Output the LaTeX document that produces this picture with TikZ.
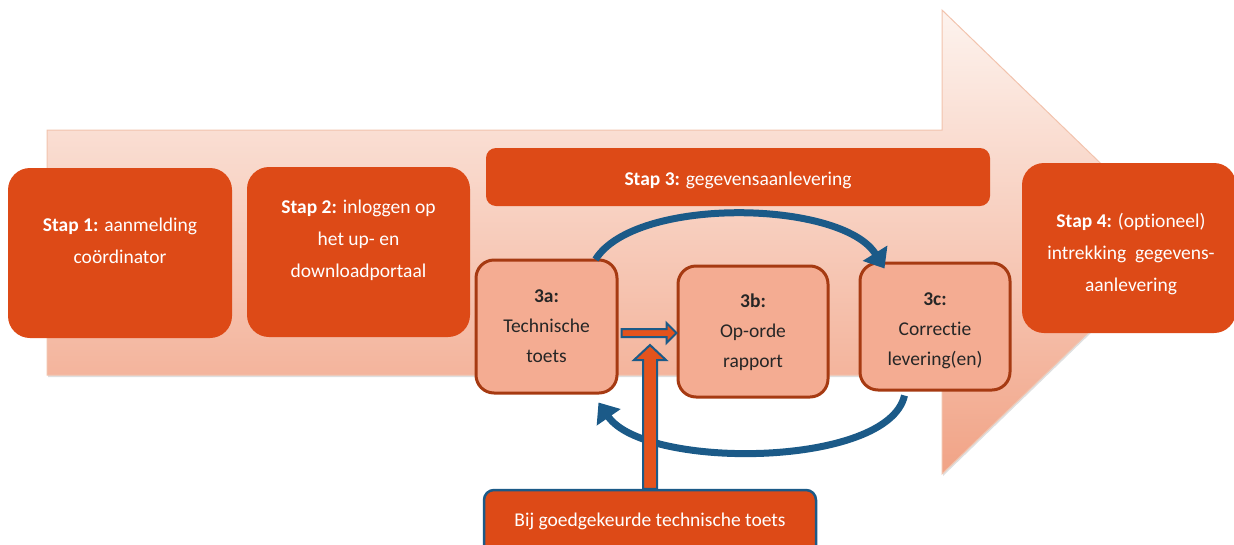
\documentclass[tikz,border=0pt]{standalone}
\usepackage{fontspec}
\setmainfont{Carlito}[Ligatures=NoCommon]
\usetikzlibrary{calc,arrows.meta,shadows}
\definecolor{org}{HTML}{DD4A17}
\definecolor{salm}{HTML}{F4AC92}
\definecolor{brd}{HTML}{A63A12}
\definecolor{blu}{HTML}{1B5A88}
\definecolor{atop}{HTML}{FDF3EE}
\definecolor{abot}{HTML}{F1A386}
\definecolor{aedge}{HTML}{F2C3AD}
\definecolor{arrorg}{HTML}{E4531D}
\tikzset{
  stepbox/.style={fill=org, draw=none, rounded corners=22, inner sep=0},
  subbox/.style={fill=salm, draw=brd, line width=3, rounded corners=18, inner sep=0},
  wtxt/.style={text=white, font=\fontsize{19.5}{32}\selectfont, align=center, inner sep=0},
  dtxt/.style={text=black!85, font=\fontsize{19.5}{30}\selectfont, align=center, inner sep=0},
  arcarrow/.style={draw=blu, line width=7, -{Triangle[width=28pt,length=18pt]}},
  flatarrow/.style={fill=arrorg, draw=blu, line width=2, line join=miter}
}
\begin{document}
\begin{tikzpicture}[x=1pt,y=-1pt]
\useasboundingbox (0,0) rectangle (1234,544);
\clip (0,0) rectangle (1234,544);
% big arrow
\shade[top color=atop, bottom color=abot, draw=aedge, line width=1,
  drop shadow={shadow xshift=1pt, shadow yshift=-2pt, opacity=0.25}]
  (47,130) -- (942,130) -- (942,10) -- (1182,242) -- (942,474) -- (942,375) -- (47,375) -- cycle;
% step boxes
\node[stepbox, minimum width=224, minimum height=170] (s1) at (120,253) {};
\node[wtxt] (s1t) at (120,241) {\textbf{Stap 1:} aanmelding\\coördinator};
\node[stepbox, minimum width=223, minimum height=170] (s2) at (358.5,252) {};
\node[wtxt] (s2t) at (358.5,240) {\textbf{Stap 2:} inloggen op\\het up- en\\downloadportaal};
\node[stepbox, rounded corners=10, minimum width=504, minimum height=58] (s3) at (738,177) {};
\node[wtxt] (s3t) at (738,180) {\textbf{Stap 3:} gegevensaanlevering};
\node[stepbox, minimum width=214, minimum height=170] (s4) at (1129,248) {};
\node[wtxt] (s4t) at (1131,254) {\textbf{Stap 4:} (optioneel)\\intrekking\ \ gegevens-\\aanlevering};
% sub boxes
\node[subbox, minimum width=141, minimum height=133] (a3) at (546.5,326.5) {};
\node[dtxt] (a3t) at (546.5,326) {\textbf{3a:}\\Technische\\toets};
\node[subbox, minimum width=150, minimum height=131] (b3) at (753,331.5) {};
\node[dtxt] (b3t) at (753,332) {\textbf{3b:}\\Op-orde\\rapport};
\node[subbox, minimum width=150, minimum height=127] (c3) at (935,326.5) {};
\node[dtxt] (c3t) at (935,331) {\textbf{3c:}\\Correctie\\levering(en)};
% bottom box
\node[fill=org, draw=blu, line width=2.5, rounded corners=10, minimum width=332, minimum height=80, inner sep=0] (bt) at (650,530) {};
\node[wtxt] (btt) at (650,521) {Bij goedgekeurde technische toets};
% blue loop arrows
\draw[arcarrow] ($(a3.north east)+(-23,1)$) .. controls (635,196) and (842,200) .. ($(c3.north west)+(26,7)$);
\draw[arcarrow] ($(c3.south west)+(46,4)$) .. controls (888,468) and (645,470) .. ($(a3.south east)+(-20,8)$);
% horizontal arrow 3a -> 3b
\coordinate (hs) at ($(a3.east)+(3,6.5)$);
\coordinate (he) at (b3.west |- hs);
\draw[flatarrow] ($(hs)+(0,-4)$) -- ($(he)+(-10,-4)$) -- ($(he)+(-10,-10)$) -- (he)
  -- ($(he)+(-10,10)$) -- ($(he)+(-10,4)$) -- ($(hs)+(0,4)$) -- cycle;
% vertical arrow from bottom box
\coordinate (vs) at (bt.north);
\coordinate (ve) at (650,345);
\draw[flatarrow] ($(vs)+(-7,0)$) -- ($(ve)+(-7,15)$) -- ($(ve)+(-16,15)$) -- (ve)
  -- ($(ve)+(16,15)$) -- ($(ve)+(7,15)$) -- ($(vs)+(7,0)$) -- cycle;
\end{tikzpicture}
\end{document}
